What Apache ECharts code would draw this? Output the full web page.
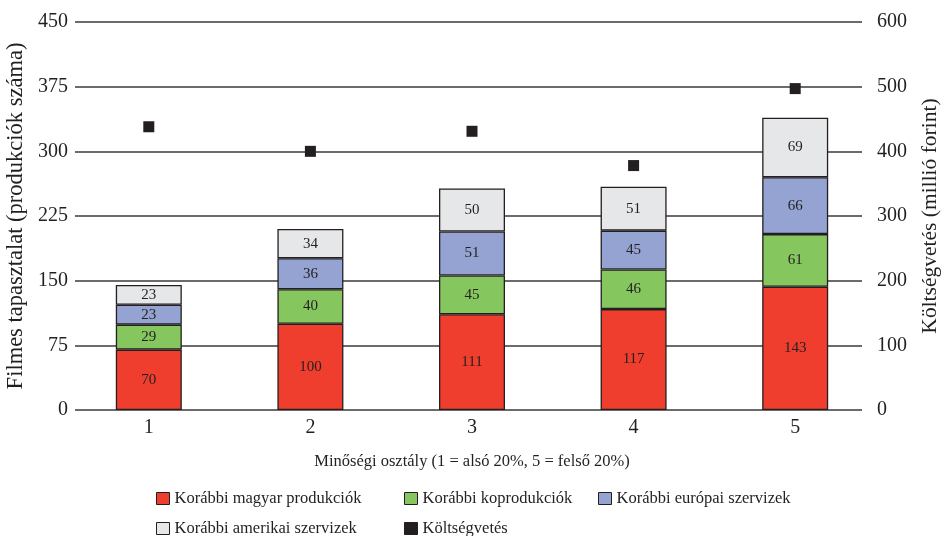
<!DOCTYPE html>
<html><head><meta charset="utf-8">
<script src="https://cdn.jsdelivr.net/npm/echarts@6/dist/echarts.min.js"></script>
<style>html,body{margin:0;padding:0;background:#fff}#c{width:944px;height:536px}</style>
</head><body><div id="c"></div>
<script>
const categories = ['1', '2', '3', '4', '5'];
const magyar = [70, 100, 111, 117, 143];
const koprod = [29, 40, 45, 46, 61];
const europai = [23, 36, 51, 45, 66];
const amerikai = [23, 34, 50, 51, 69];
const budget = [438, 400, 431, 378, 497];
const seriesNames = ['Korábbi magyar produkciók', 'Korábbi koprodukciók', 'Korábbi európai szervizek', 'Korábbi amerikai szervizek', 'Költségvetés'];

const F = 'Liberation Serif, Times New Roman, serif';
const TXT = '#231F20';
const chart = echarts.init(document.getElementById('c'));
const gTop = 22, gHeight = 388;
function barSeries(name, data, color) {
  return {
    name, type: 'bar', stack: 'a', data, xAxisIndex: 1, yAxisIndex: 2, barWidth: 66,
    itemStyle: { color, borderColor: '#231F20', borderWidth: 1.3 },
    label: { show: true, position: 'inside', color: TXT, fontFamily: F, fontSize: 15 },
    emphasis: { disabled: true }
  };
}
function leg(name, left, topPos) {
  return {
    data: [name], left, top: topPos, itemWidth: 13, itemHeight: 12, icon: 'rect',
    textStyle: { fontFamily: F, fontSize: 16.5, color: TXT }, itemStyle: { borderColor: '#231F20', borderWidth: 1 },
    selectedMode: false
  };
}
chart.setOption({
  animation: false,
  grid: [
    { left: 75, width: 787, top: gTop, height: gHeight, outerBoundsMode: 'none', containLabel: false },
    { left: 68, width: 808, top: gTop, height: gHeight, outerBoundsMode: 'none', containLabel: false }
  ],
  legend: [
    leg(seriesNames[0], 151, 485),
    leg(seriesNames[1], 399, 485),
    leg(seriesNames[2], 593, 485),
    leg(seriesNames[3], 151, 515),
    leg(seriesNames[4], 399, 515)
  ],
  xAxis: [
    { type: 'category', gridIndex: 0, data: categories, show: false },
    { type: 'category', gridIndex: 1, data: categories,
      axisLine: { show: false }, axisTick: { show: false },
      axisLabel: { fontFamily: F, fontSize: 20, color: TXT, margin: 8 },
      name: 'Minőségi osztály (1 = alsó 20%, 5 = felső 20%)', nameLocation: 'middle', nameGap: 43,
      nameTextStyle: { fontFamily: F, fontSize: 16.5, color: TXT } }
  ],
  yAxis: [
    { type: 'value', gridIndex: 0, min: 0, max: 450, interval: 75, position: 'left',
      axisLine: { show: false }, axisTick: { show: false },
      axisLabel: { fontFamily: F, fontSize: 20, color: TXT, margin: 7 },
      splitLine: { lineStyle: { color: '#3a3a3a', width: 1.5 } },
      name: 'Filmes tapasztalat (produkciók száma)', nameLocation: 'middle', nameGap: 38, nameRotate: 90,
      nameTextStyle: { fontFamily: F, fontSize: 22.5, color: TXT } },
    { type: 'value', gridIndex: 0, min: 0, max: 600, interval: 100, position: 'right',
      axisLine: { show: false }, axisTick: { show: false },
      axisLabel: { fontFamily: F, fontSize: 20, color: TXT, margin: 15 },
      splitLine: { show: false },
      name: 'Költségvetés (millió forint)', nameLocation: 'middle', nameGap: 57, nameRotate: 90,
      nameTextStyle: { fontFamily: F, fontSize: 21.5, color: TXT } },
    { type: 'value', gridIndex: 1, min: 0, max: 450, show: false, splitLine: { show: false } },
    { type: 'value', gridIndex: 1, min: 0, max: 600, show: false, splitLine: { show: false } }
  ],
  series: [
    barSeries(seriesNames[0], magyar, '#EF3E2E'),
    barSeries(seriesNames[1], koprod, '#86C65F'),
    barSeries(seriesNames[2], europai, '#95A3D3'),
    barSeries(seriesNames[3], amerikai, '#E6E7E9'),
    { name: seriesNames[4], type: 'scatter', data: budget, xAxisIndex: 1, yAxisIndex: 3,
      symbol: 'rect', symbolSize: 11, itemStyle: { color: '#231F20', opacity: 1 }, emphasis: { disabled: true } }
  ]
});
</script></body></html>
